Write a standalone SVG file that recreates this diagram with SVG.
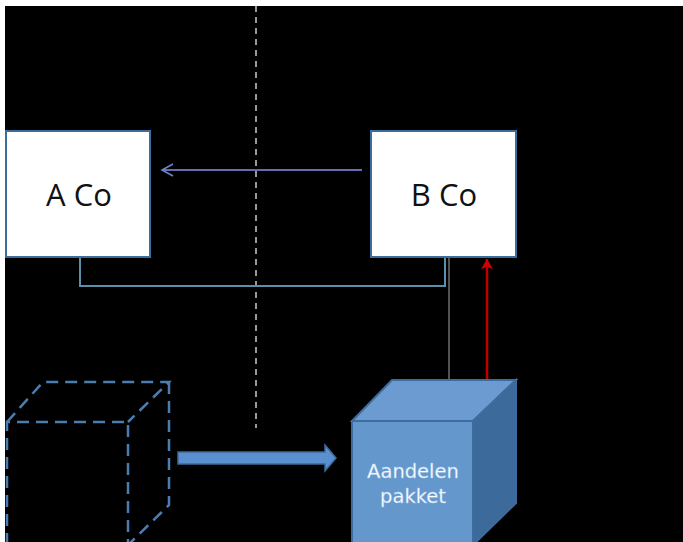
<svg xmlns="http://www.w3.org/2000/svg" width="683" height="542" viewBox="0 0 683 542">
<style>
.box{fill:#ffffff;stroke:#3b6e9a;stroke-width:2}
.lbl{font-family:"Open Sans","DejaVu Sans",sans-serif;font-size:31px;fill:#111;text-anchor:middle}
.cubetxt{font-family:"DejaVu Sans",sans-serif;font-size:19.5px;fill:#ffffff;text-anchor:middle;stroke:#a8c8ec;stroke-width:0.4}
.dash{fill:none;stroke:#4a7db0;stroke-width:2.5;stroke-dasharray:12 7}
</style>
<defs>
<marker id="chev" markerWidth="14" markerHeight="14" refX="12" refY="7" orient="auto" markerUnits="userSpaceOnUse">
<path d="M1,1 L12,7 L1,13" fill="none" stroke="#6a86c8" stroke-width="1.6"/>
</marker>
<marker id="red" markerWidth="14" markerHeight="14" refX="12" refY="7" orient="auto" markerUnits="userSpaceOnUse">
<path d="M12,7 L2,1 L4,7 L2,13 Z" fill="#d00000"/>
</marker>
</defs>
<rect x="0" y="0" width="683" height="542" fill="#ffffff"/>
<rect x="5" y="6" width="678" height="536" fill="#000000"/>
<g id="divider">
<line x1="256" y1="6" x2="256" y2="428" stroke="#cccccc" stroke-width="1.5" stroke-dasharray="6 5"/>
</g>
<g id="connectors">
<line x1="362" y1="170" x2="162" y2="170" stroke="#6a6ab4" stroke-width="2" marker-end="url(#chev)"/>
<polyline points="80,257 80,286 445,286 445,257" fill="none" stroke="#5b8fae" stroke-width="2"/>
<line x1="449" y1="257" x2="449" y2="380" stroke="#8a8a8a" stroke-width="1.2"/>
<line x1="487" y1="380" x2="487" y2="259" stroke="#c00000" stroke-width="2.5" marker-end="url(#red)"/>
<path d="M178,452 L325,452 L325,445 L336,458 L325,471 L325,464 L178,464 Z" fill="#5a8fd0" stroke="#3c6a9c" stroke-width="1.5"/>
</g>
<g id="aco">
<rect class="box" x="6" y="131" width="144" height="126"/>
<text class="lbl" x="79" y="206">A Co</text>
</g>
<g id="bco">
<rect class="box" x="371" y="131" width="145" height="126"/>
<text class="lbl" x="444" y="206">B Co</text>
</g>
<g id="dashed-cube">
<path class="dash" d="M7,545 L7,422 L128,422 L128,545"/>
<path class="dash" d="M7,422 L43,382 L169,382 L128,422"/>
<path class="dash" d="M169,382 L169,505 L128,545"/>
</g>
<g id="aandelen">
<polygon points="352,421 392,380 516,380 473,421" fill="#6b9bd0" stroke="#3e6c9e" stroke-width="2"/>
<polygon points="473,421 516,380 516,503 473,545" fill="#3b6a9b" stroke="#3e6c9e" stroke-width="2"/>
<rect x="352" y="421" width="121" height="125" fill="#6497cc" stroke="#3e6c9e" stroke-width="2"/>
<text class="cubetxt" x="413" y="478">Aandelen</text>
<text class="cubetxt" x="413" y="503">pakket</text>
</g>
</svg>
